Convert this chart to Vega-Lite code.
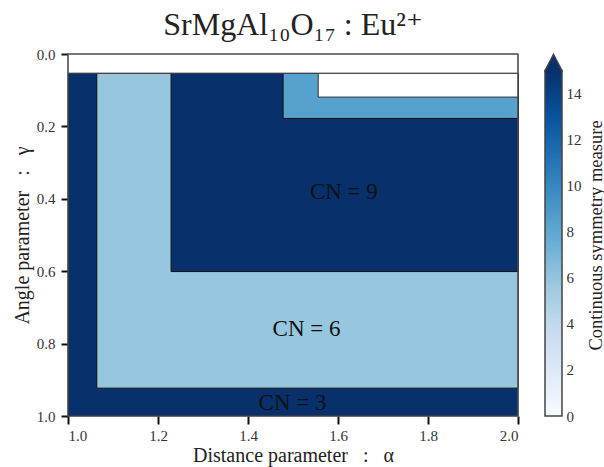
{
  "$schema": "https://vega.github.io/schema/vega-lite/v6.json",
  "background": "white",
  "padding": {"left": 12, "top": 9, "right": 1, "bottom": 2},
  "config": {
    "view": {"stroke": null},
    "font": "Liberation Serif",
    "style": {
      "guide-label": {"font": "Liberation Serif"},
      "guide-title": {"font": "Liberation Serif"}
    },
    "axis": {
      "labelFont": "Liberation Serif",
      "titleFont": "Liberation Serif",
      "labelFontSize": 15,
      "titleFontSize": 20,
      "titleFontWeight": "normal",
      "labelColor": "#333",
      "titleColor": "#222",
      "tickColor": "#111",
      "domain": false,
      "grid": false
    }
  },
  "bounds": "flush",
  "spacing": 27,
  "datasets": {
    "regions": [
      {"a0": 1.0, "a1": 2.0, "g0": 0.053, "g1": 1.0, "csm": 16},
      {"a0": 1.064, "a1": 2.0, "g0": 0.053, "g1": 0.923, "csm": 5.9},
      {"a0": 1.229, "a1": 2.0, "g0": 0.053, "g1": 0.601, "csm": 16},
      {"a0": 1.478, "a1": 2.0, "g0": 0.053, "g1": 0.178, "csm": 8.4}
    ],
    "blank": [
      {"a0": 1.556, "a1": 2.0, "g0": 0.053, "g1": 0.119},
      {"a0": 1.0, "a1": 2.0, "g0": 0.0, "g1": 0.053}
    ],
    "labels": [
      {"label": "CN = 9", "a": 1.613, "g": 0.381},
      {"label": "CN = 6", "a": 1.530, "g": 0.760},
      {"label": "CN = 3", "a": 1.499, "g": 0.964}
    ],
    "colorbar": [{"lo": 0, "hi": 15}]
  },
  "hconcat": [
    {
      "width": 450,
      "height": 362,
      "title": {
        "text": "SrMgAl₁₀O₁₇ : Eu²⁺",
        "font": "Liberation Serif, DejaVu Serif",
        "fontSize": 32,
        "fontWeight": "normal",
        "color": "#222",
        "anchor": "middle",
        "offset": 5
      },
      "layer": [
        {
          "data": {"name": "regions"},
          "mark": {"type": "rect", "stroke": "#111", "strokeWidth": 1},
          "encoding": {
            "x": {
              "field": "a0",
              "type": "quantitative",
              "scale": {"domain": [1, 2], "nice": false, "zero": false},
              "axis": {
                "title": "Distance parameter \u2002:\u2002 α",
                "labelFont": "Liberation Serif",
                "values": [1.0, 1.2, 1.4, 1.6, 1.8, 2.0],
                "format": ".1f",
                "tickSize": 8,
                "tickWidth": 2,
                "labelPadding": 4,
                "titlePadding": 2
              }
            },
            "x2": {"field": "a1"},
            "y": {
              "field": "g0",
              "type": "quantitative",
              "scale": {"domain": [0, 1], "nice": false, "zero": false, "reverse": true},
              "axis": {
                "title": "Angle parameter \u2002:\u2002 γ",
                "labelFont": "Liberation Serif",
                "values": [0.0, 0.2, 0.4, 0.6, 0.8, 1.0],
                "format": ".1f",
                "tickSize": 7,
                "tickWidth": 2,
                "labelPadding": 6,
                "titlePadding": 4
              }
            },
            "y2": {"field": "g1"},
            "color": {
              "field": "csm",
              "type": "quantitative",
              "legend": null,
              "scale": {
                "domain": [0, 1.875, 3.75, 5.625, 7.5, 9.375, 11.25, 13.125, 15],
                "range": ["#f7fbff", "#deebf7", "#c6dbef", "#9ecae1", "#6baed6", "#4292c6", "#2171b5", "#08519c", "#08306b"],
                "interpolate": "rgb",
                "clamp": true
              }
            }
          }
        },
        {
          "data": {"name": "blank"},
          "mark": {"type": "rect", "fill": "white", "stroke": "#333", "strokeWidth": 1},
          "encoding": {
            "x": {"field": "a0", "type": "quantitative"},
            "x2": {"field": "a1"},
            "y": {"field": "g0", "type": "quantitative"},
            "y2": {"field": "g1"}
          }
        },
        {
          "data": {"name": "labels"},
          "mark": {"type": "text", "font": "Liberation Serif", "fontSize": 23, "color": "#111", "align": "center", "baseline": "middle"},
          "encoding": {
            "x": {"field": "a", "type": "quantitative"},
            "y": {"field": "g", "type": "quantitative"},
            "text": {"field": "label"}
          }
        },
        {
          "data": {"values": [{}]},
          "mark": {"type": "rect", "fill": null, "stroke": "#555", "strokeWidth": 1.2},
          "encoding": {}
        }
      ]
    },
    {
      "width": 17,
      "height": 362,
      "layer": [
        {
          "data": {"name": "colorbar"},
          "mark": {
            "type": "rect",
            "stroke": "#444",
            "strokeWidth": 1.5,
            "fill": {
              "gradient": "linear",
              "x1": 0, "y1": 1, "x2": 0, "y2": 0,
              "stops": [
                {"offset": 0, "color": "#f7fbff"},
                {"offset": 0.125, "color": "#deebf7"},
                {"offset": 0.25, "color": "#c6dbef"},
                {"offset": 0.375, "color": "#9ecae1"},
                {"offset": 0.5, "color": "#6baed6"},
                {"offset": 0.625, "color": "#4292c6"},
                {"offset": 0.75, "color": "#2171b5"},
                {"offset": 0.875, "color": "#08519c"},
                {"offset": 1, "color": "#08306b"}
              ]
            }
          },
          "encoding": {
            "y": {
              "field": "lo",
              "type": "quantitative",
              "scale": {"domain": [0, 15.72], "nice": false, "zero": true},
              "axis": {
                "orient": "right",
                "title": "Continuous symmetry measure",
                "labelFont": "Liberation Serif",
                "titleFontSize": 18.5,
                "titleAngle": 270,
                "titleBaseline": "top",
                "titlePadding": 5,
                "values": [0, 2, 4, 6, 8, 10, 12, 14],
                "tickSize": 0,
                "labelPadding": 4,
                "labelBaseline": "middle"
              }
            },
            "y2": {"field": "hi"}
          }
        },
        {
          "data": {"name": "colorbar"},
          "mark": {
            "type": "point",
            "shape": "M-1,0.2L-1,0L0,-1.9L1,0L1,0.2",
            "size": 289,
            "filled": true,
            "fill": "#08306b",
            "stroke": "#444",
            "strokeWidth": 1.5,
            "opacity": 1
          },
          "encoding": {
            "y": {"field": "hi", "type": "quantitative"}
          }
        }
      ]
    }
  ]
}
